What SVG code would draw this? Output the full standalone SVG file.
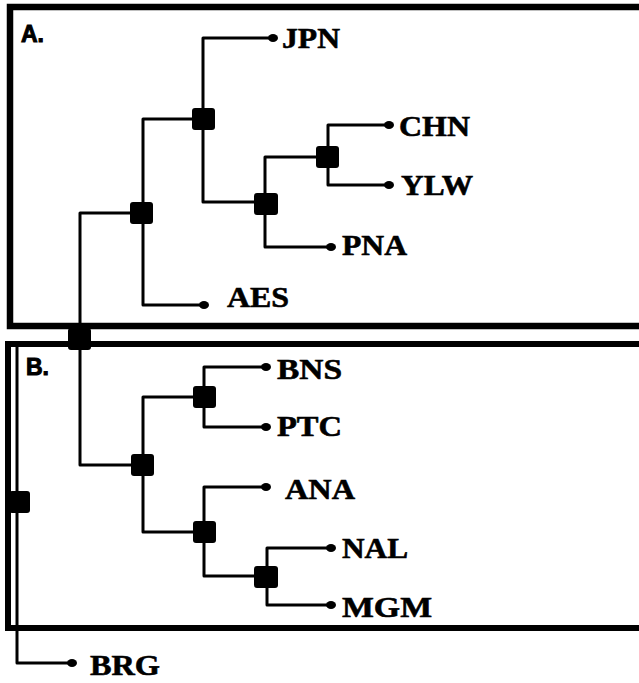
<svg xmlns="http://www.w3.org/2000/svg" width="639" height="683" viewBox="0 0 639 683">
<style>
.box{fill:none;stroke:#000;}
.ln{fill:none;stroke:#000;stroke-width:3;stroke-linejoin:round;stroke-linecap:square;}
.nd{fill:#000;}
.dot{fill:#000;}
.lbl{font-family:"Liberation Serif","Times New Roman",serif;font-weight:bold;font-size:30px;fill:#000;stroke:#000;stroke-width:0.6;}
.pl{font-family:"Liberation Sans",Arial,sans-serif;font-weight:bold;font-size:23px;fill:#000;stroke:#000;stroke-width:1;}
</style>
<rect width="639" height="683" fill="#fff"/>
<g id="panelA">
<rect class="box" x="10" y="7" width="640" height="319" stroke-width="6.5"/>
<text class="pl" x="21" y="42">A.</text>
</g>
<g id="panelB">
<rect class="box" x="8" y="344" width="642" height="284" stroke-width="6"/>
<text class="pl" x="26" y="375">B.</text>
</g>
<g id="connectors">
<path class="ln" d="M80,339 V213 H141"/>
<path class="ln" d="M203,305 H143 V119 H203"/>
<path class="ln" d="M272,38 H203 V202 H266"/>
<path class="ln" d="M327,157 H265 V247 H330"/>
<path class="ln" d="M388,125 H328 V185 H388"/>
<path class="ln" d="M80,339 V465 H142"/>
<path class="ln" d="M204,397 H143 V532 H204"/>
<path class="ln" d="M265,367 H204 V427 H265"/>
<path class="ln" d="M265,487 H204 V576 H266"/>
<path class="ln" d="M330,548 H267 V605 H330"/>
<path class="ln" d="M79,343 H17 V663 H72"/>
</g>
<g id="n-root"><rect class="nd" x="68" y="328" width="23" height="22" rx="3"/></g>
<g id="n-A"><rect class="nd" x="130" y="202" width="23" height="22" rx="3"/></g>
<g id="n-A1"><rect class="nd" x="192" y="108" width="23" height="22" rx="3"/></g>
<g id="n-A2"><rect class="nd" x="254" y="193" width="24" height="22" rx="3"/></g>
<g id="n-A3"><rect class="nd" x="316" y="146" width="23" height="22" rx="3"/></g>
<g id="n-B"><rect class="nd" x="131" y="454" width="23" height="22" rx="3"/></g>
<g id="n-B1"><rect class="nd" x="193" y="386" width="23" height="22" rx="3"/></g>
<g id="n-B2"><rect class="nd" x="193" y="521" width="23" height="22" rx="3"/></g>
<g id="n-B3"><rect class="nd" x="254" y="566" width="24" height="22" rx="3"/></g>
<g id="n-out"><rect class="nd" x="9" y="491" width="21" height="22" rx="3"/></g>
<g id="JPN"><ellipse class="dot" cx="273" cy="38" rx="5" ry="4"/><text class="lbl" x="282" y="48" textLength="58" lengthAdjust="spacingAndGlyphs">JPN</text></g>
<g id="CHN"><ellipse class="dot" cx="389" cy="125" rx="5" ry="4"/><text class="lbl" x="399" y="136" textLength="71" lengthAdjust="spacingAndGlyphs">CHN</text></g>
<g id="YLW"><ellipse class="dot" cx="389" cy="185" rx="5" ry="4"/><text class="lbl" x="401" y="195" textLength="72" lengthAdjust="spacingAndGlyphs">YLW</text></g>
<g id="PNA"><ellipse class="dot" cx="331" cy="247" rx="5" ry="4"/><text class="lbl" x="342" y="255" textLength="65" lengthAdjust="spacingAndGlyphs">PNA</text></g>
<g id="AES"><ellipse class="dot" cx="204" cy="305" rx="5" ry="4"/><text class="lbl" x="227" y="307" textLength="62" lengthAdjust="spacingAndGlyphs">AES</text></g>
<g id="BNS"><ellipse class="dot" cx="266" cy="367" rx="5" ry="4"/><text class="lbl" x="277" y="379" textLength="65" lengthAdjust="spacingAndGlyphs">BNS</text></g>
<g id="PTC"><ellipse class="dot" cx="266" cy="427" rx="5" ry="4"/><text class="lbl" x="277" y="436" textLength="65" lengthAdjust="spacingAndGlyphs">PTC</text></g>
<g id="ANA"><ellipse class="dot" cx="266" cy="487" rx="5" ry="4"/><text class="lbl" x="285" y="499" textLength="70" lengthAdjust="spacingAndGlyphs">ANA</text></g>
<g id="NAL"><ellipse class="dot" cx="331" cy="548" rx="5" ry="4"/><text class="lbl" x="342" y="558" textLength="66" lengthAdjust="spacingAndGlyphs">NAL</text></g>
<g id="MGM"><ellipse class="dot" cx="331" cy="605" rx="5" ry="4"/><text class="lbl" x="342" y="617" textLength="90" lengthAdjust="spacingAndGlyphs">MGM</text></g>
<g id="BRG"><ellipse class="dot" cx="72" cy="663" rx="5" ry="4"/><text class="lbl" x="90" y="675" textLength="70" lengthAdjust="spacingAndGlyphs">BRG</text></g>
</svg>
